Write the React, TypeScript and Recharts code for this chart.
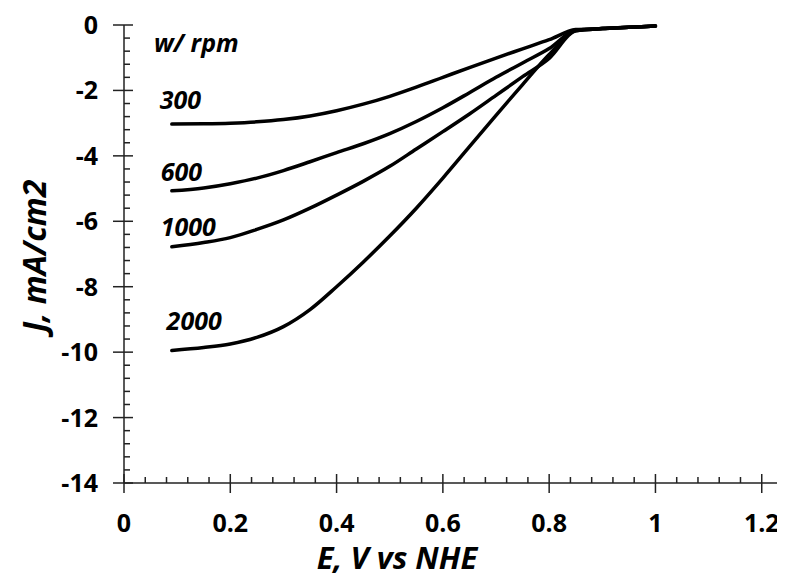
import React from 'react';
import { LineChart, Line, XAxis, YAxis, ReferenceDot, Label } from 'recharts';

const E = [0.09, 0.15, 0.2, 0.25, 0.3, 0.35, 0.4, 0.45, 0.5, 0.55, 0.6, 0.65, 0.7, 0.75, 0.8, 0.85, 0.9, 0.95, 1.0];

// current density, mA/cm2, for each rotation rate
const J300 = [-3.03, -3.02, -3.0, -2.96, -2.89, -2.78, -2.62, -2.42, -2.18, -1.9, -1.6, -1.3, -1.01, -0.73, -0.45, -0.14, -0.11, -0.07, -0.03];
const J600 = [-5.07, -4.98, -4.85, -4.68, -4.45, -4.18, -3.9, -3.63, -3.32, -2.95, -2.53, -2.07, -1.6, -1.16, -0.72, -0.16, -0.11, -0.07, -0.03];
const J1000 = [-6.78, -6.65, -6.5, -6.25, -5.96, -5.6, -5.2, -4.78, -4.32, -3.79, -3.26, -2.72, -2.15, -1.58, -1.02, -0.18, -0.11, -0.07, -0.03];
const J2000 = [-9.95, -9.86, -9.75, -9.55, -9.22, -8.7, -8.0, -7.25, -6.45, -5.6, -4.68, -3.72, -2.76, -1.82, -0.9, -0.18, -0.11, -0.07, -0.03];

const rpms = ['300', '600', '1000', '2000'];
const series = [J300, J600, J1000, J2000];

// curve labels, anchored in data units
const notes = [
  { text: 'w/ rpm', E: 0.136, J: -0.55 },
  { text: '300', E: 0.106, J: -2.29 },
  { text: '600', E: 0.108, J: -4.5 },
  { text: '1000', E: 0.121, J: -6.18 },
  { text: '2000', E: 0.132, J: -9.05 },
];

const xMajor = [0, 0.2, 0.4, 0.6, 0.8, 1, 1.2];
const yMajor = [0, -2, -4, -6, -8, -10, -12, -14];

const xTicks: number[] = [];
for (let i = 0; i <= 30; i++) xTicks.push(Math.round(i * 4) / 100);
const yTicks: number[] = [];
for (let i = 0; i <= 35; i++) yTicks.push(-Math.round(i * 4) / 10);

const data = E.map((e, i) => {
  const row: any = { E: e };
  rpms.forEach((r, k) => (row['r' + r] = series[k][i]));
  return row;
});

const FONT = '"Open Sans", "DejaVu Sans", sans-serif';
const AXIS = '#222';

const isMajor = (v: number, list: number[]) => list.some(m => Math.abs(m - v) < 1e-6);

const XTick = (props: any) => {
  const { x, y, payload } = props;
  const v = payload.value;
  if (isMajor(v, xMajor)) {
    return (
      <g>
        <line x1={x} x2={x} y1={y - 9} y2={y + 10} stroke={AXIS} strokeWidth={1.5} />
        <text x={x} y={y + 49} textAnchor="middle" fontFamily={FONT} fontWeight="bold" fontSize={25} fill="#000">
          {String(Number(v.toFixed(2)))}
        </text>
      </g>
    );
  }
  return <line x1={x} x2={x} y1={y - 6} y2={y} stroke={AXIS} strokeWidth={1.5} />;
};

const YTick = (props: any) => {
  const { x, y, payload } = props;
  const v = payload.value;
  if (isMajor(v, yMajor)) {
    return (
      <g>
        <line x1={x - 11} x2={x + 9} y1={y} y2={y} stroke={AXIS} strokeWidth={1.5} />
        <text x={x - 26} y={y + 9} textAnchor="end" fontFamily={FONT} fontWeight="bold" fontSize={25} fill="#000">
          {String(Number(v.toFixed(1)))}
        </text>
      </g>
    );
  }
  return <line x1={x} x2={x + 6} y1={y} y2={y} stroke={AXIS} strokeWidth={1.5} />;
};

const App = () => {
  return (
    <div style={{ width: 777, height: 568 }}>
      <LineChart width={777} height={568} data={data} margin={{ top: 17, right: 2, left: 0, bottom: 0 }}>
        <XAxis
          type="number"
          dataKey="E"
          domain={[0, 1.24]}
          allowDataOverflow
          ticks={xTicks}
          interval={0}
          tickSize={0}
          tickMargin={0}
          tick={<XTick />}
          height={93}
          axisLine={{ stroke: AXIS, strokeWidth: 1.5 }}
        >
          <Label
            content={() => (
              <text x={389} y={561} textAnchor="middle" fontFamily={FONT} fontWeight="bold" fontStyle="italic" fontSize={31} fill="#000">
                E, V vs NHE
              </text>
            )}
          />
        </XAxis>
        <YAxis
          type="number"
          domain={[-14, 0]}
          ticks={yTicks}
          interval={0}
          tickSize={0}
          tickMargin={0}
          tick={<YTick />}
          width={116}
          axisLine={{ stroke: AXIS, strokeWidth: 1.5 }}
        >
          <Label
            content={() => (
              <text
                x={25}
                y={248}
                transform="rotate(-90 25 248)"
                textAnchor="middle"
                dominantBaseline="central"
                fontFamily={FONT}
                fontWeight="bold"
                fontStyle="italic"
                fontSize={32}
                fill="#000"
              >
                J, mA/cm2
              </text>
            )}
          />
        </YAxis>
        {rpms.map(r => (
          <Line
            key={r}
            type="monotone"
            dataKey={'r' + r}
            stroke="#000"
            strokeWidth={3.5}
            strokeLinecap="round"
            dot={false}
            isAnimationActive={false}
          />
        ))}
        {notes.map(n => (
          <ReferenceDot
            key={n.text}
            x={n.E}
            y={n.J}
            r={0}
            fill="none"
            stroke="none"
            label={{
              value: n.text,
              position: 'center',
              fontFamily: FONT,
              fontWeight: 'bold',
              fontStyle: 'italic',
              fontSize: 25,
              fill: '#000',
            }}
          />
        ))}
      </LineChart>
    </div>
  );
};

export default App;
